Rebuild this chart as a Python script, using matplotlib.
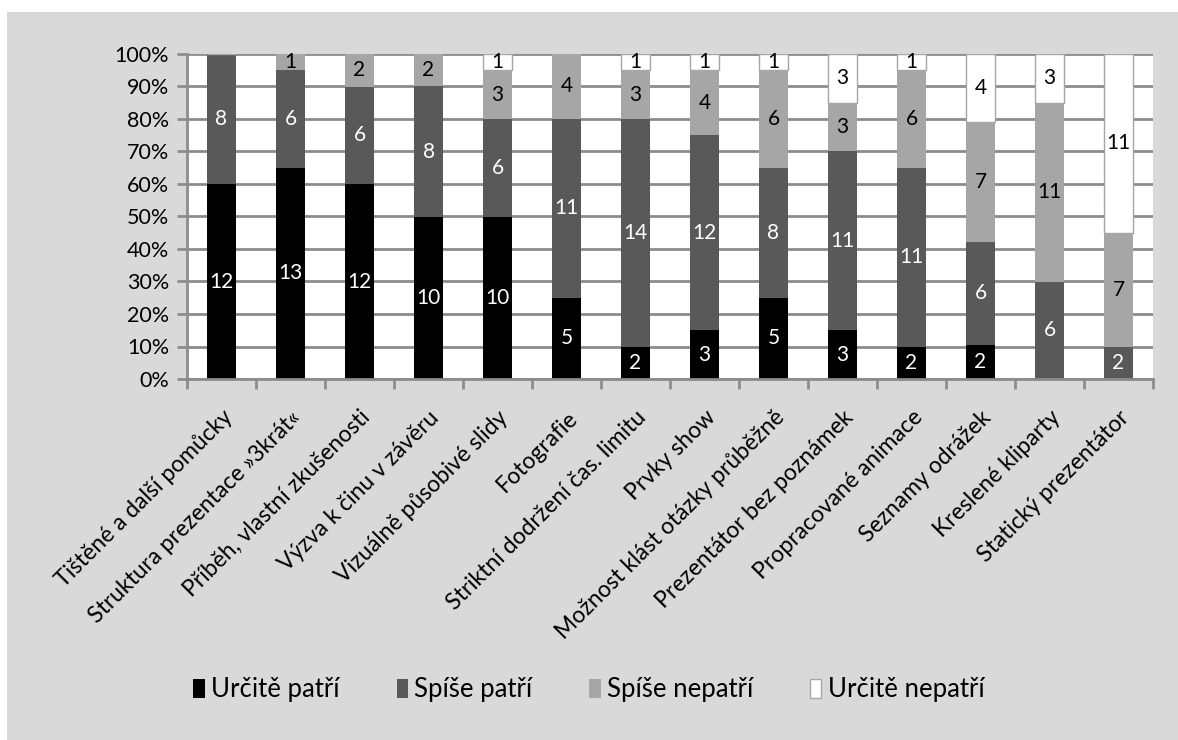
import matplotlib.pyplot as plt
from matplotlib.patches import Rectangle
import numpy as np

plt.rcParams["font.family"] = ["Lato", "DejaVu Sans"]

categories = [
    "Tištěné a další pomůcky",
    "Struktura prezentace »3krát«",
    "Příběh, vlastní zkušenosti",
    "Výzva k činu v závěru",
    "Vizuálně působivé slidy",
    "Fotografie",
    "Striktní dodržení čas. limitu",
    "Prvky show",
    "Možnost klást otázky průběžně",
    "Prezentátor bez poznámek",
    "Propracované animace",
    "Seznamy odrážek",
    "Kreslené kliparty",
    "Statický prezentátor",
]
urcite_patri = [12, 13, 12, 10, 10, 5, 2, 3, 5, 3, 2, 2, 0, 0]
spise_patri = [8, 6, 6, 8, 6, 11, 14, 12, 8, 11, 11, 6, 6, 2]
spise_nepatri = [0, 1, 2, 2, 3, 4, 3, 4, 6, 3, 6, 7, 11, 7]
urcite_nepatri = [0, 0, 0, 0, 1, 0, 1, 1, 1, 3, 1, 4, 3, 11]

series_names = ["Určitě patří", "Spíše patří", "Spíše nepatří", "Určitě nepatří"]
series_colors = ["#000000", "#595959", "#a6a6a6", "#ffffff"]
label_colors = ["white", "white", "black", "black"]

counts = np.array([urcite_patri, spise_patri, spise_nepatri, urcite_nepatri], dtype=float)
shares = counts / counts.sum(axis=0)

W, H = 1178, 740
fig = plt.figure(figsize=(W / 100, H / 100), dpi=100, facecolor="white")
# grey chart area behind everything
fig.patches.append(Rectangle((7 / W, 0), 1 - 7 / W, 1 - 12 / H,
                             transform=fig.transFigure, facecolor="#d9d9d9",
                             edgecolor="none", zorder=-10))

ax = fig.add_axes([187 / W, 1 - 379 / H, (1153 - 187) / W, (379 - 54) / H])
ax.set_facecolor("white")

x = np.arange(len(categories))
bottom = np.zeros(len(categories))
for i, name in enumerate(series_names):
    edge = "#a6a6a6" if series_colors[i] == "#ffffff" else "none"
    bars = ax.bar(x, shares[i], 0.42, bottom=bottom, color=series_colors[i],
                  edgecolor=edge, linewidth=1, label=name, zorder=2)
    for j, rect in enumerate(bars):
        if counts[i, j] > 0:
            ax.text(rect.get_x() + rect.get_width() / 2,
                    bottom[j] + shares[i, j] / 2,
                    f"{int(counts[i, j])}", ha="center", va="center",
                    fontsize=15, color=label_colors[i], zorder=3)
    bottom += shares[i]

ax.set_xlim(-0.5, len(categories) - 0.5)
ax.set_ylim(0, 1)
ax.set_yticks(np.linspace(0, 1, 11))
ax.set_yticklabels([f"{v}%" for v in range(0, 101, 10)], fontsize=15.5)
ax.yaxis.grid(True, color="#8c8c8c", linewidth=2, zorder=1)
ax.set_axisbelow(True)

ax.set_xticks(x)
ax.set_xticklabels(categories, rotation=45, ha="right", rotation_mode="anchor",
                   fontsize=16.5)
ax.set_xticks(np.arange(len(categories) + 1) - 0.5, minor=True)
ax.tick_params(axis="x", which="major", length=0, pad=20)
ax.tick_params(axis="x", which="minor", length=7, width=2, color="#8c8c8c")
ax.tick_params(axis="y", length=7, width=2, color="#8c8c8c", pad=6)

for side in ("top", "right"):
    ax.spines[side].set_visible(False)
for side in ("left", "bottom"):
    ax.spines[side].set_color("#8c8c8c")
    ax.spines[side].set_linewidth(2)

fig.legend(loc="center", bbox_to_anchor=(0.5, 1 - 690 / H), ncol=4,
           frameon=False, fontsize=18.5, handlelength=0.45, handleheight=0.75,
           handletextpad=0.25, columnspacing=2.2)

fig.savefig("out.png", dpi=100, facecolor=fig.get_facecolor())
